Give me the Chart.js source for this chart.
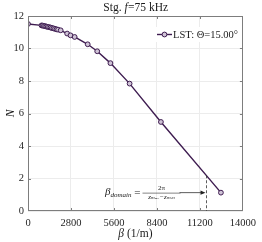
<!DOCTYPE html>
<html>
<head>
<meta charset="utf-8">
<script src="https://cdn.jsdelivr.net/npm/chart.js@4"></script>
<style>
html,body{margin:0;padding:0;background:#fff;}
</style>
</head>
<body>
<canvas id="c" width="262" height="242"></canvas>
<script>
// values
const beta = [0, 880, 960, 1040, 1120, 1200, 1290, 1380, 1470, 1560, 1660, 1760, 1860, 1960, 2130, 2550, 2770, 3040, 3890, 4510, 5370, 6620, 8660, 12570];
const nIndex = [11.51, 11.42, 11.41, 11.39, 11.37, 11.35, 11.33, 11.31, 11.29, 11.26, 11.24, 11.21, 11.18, 11.16, 11.12, 10.92, 10.81, 10.71, 10.26, 9.83, 9.10, 7.84, 5.48, 1.13];
const xTicks = [0, 2800, 5600, 8400, 11200, 14000];
const yTicks = [0, 2, 4, 6, 8, 10, 12];
const seriesLabel = 'LST: \u0398=15.00\u00b0';
const betaDomain = 11600;   // dashed marker
const arrowN = 1.13;        // height of the arrow
const dashTopN = 2.2;

const serif = '"Liberation Serif", "DejaVu Serif", serif';
const lineCol = '#3e1c50';
const axisCol = '#7d7d7d';
const gridCol = '#ececec';

Chart.defaults.font.family = serif;
Chart.defaults.color = '#262626';

// draws box, inward ticks, titles, legend and the beta_domain note
const deco = {
	id: 'deco',
	afterDraw(chart){
		const ctx = chart.ctx, a = chart.chartArea, sx = chart.scales.x, sy = chart.scales.y;
		let i, p;
		ctx.save();

		// axes box
		ctx.strokeStyle = axisCol;
		ctx.lineWidth = 1;
		ctx.strokeRect(Math.round(a.left)+0.5, Math.round(a.top)+0.5, Math.round(a.right-a.left)-1, Math.round(a.bottom-a.top)-1);

		// ticks pointing in
		ctx.beginPath();
		for(i = 1; i < xTicks.length-1; i++){
			p = Math.round(sx.getPixelForValue(xTicks[i]))+0.5;
			ctx.moveTo(p,a.bottom); ctx.lineTo(p,a.bottom-3);
			ctx.moveTo(p,a.top); ctx.lineTo(p,a.top+3);
		}
		for(i = 1; i < yTicks.length-1; i++){
			p = Math.round(sy.getPixelForValue(yTicks[i]))+0.5;
			ctx.moveTo(a.left,p); ctx.lineTo(a.left+3,p);
			ctx.moveTo(a.right,p); ctx.lineTo(a.right-3,p);
		}
		ctx.stroke();

		ctx.fillStyle = '#1a1a1a';
		ctx.textBaseline = 'middle';

		// title
		ctx.textAlign = 'left';
		let cx = (a.left+a.right)/2;
		let t1 = 'Stg. ', t2 = 'f', t3 = '=75 kHz';
		ctx.font = '11.5px ' + serif;
		let w1 = ctx.measureText(t1).width, w3 = ctx.measureText(t3).width;
		ctx.font = 'italic 11.5px ' + serif;
		let w2 = ctx.measureText(t2).width;
		let x0 = cx - (w1+w2+w3)/2;
		ctx.font = '11.5px ' + serif;
		ctx.fillText(t1, x0, 7.5);
		ctx.font = 'italic 11.5px ' + serif;
		ctx.fillText(t2, x0+w1, 7.5);
		ctx.font = '11.5px ' + serif;
		ctx.fillText(t3, x0+w1+w2+0.5, 7.5);

		// x axis title
		ctx.font = 'italic 11.5px ' + serif;
		let wb = ctx.measureText('\u03b2').width;
		ctx.font = '11.5px ' + serif;
		let wu = ctx.measureText(' (1/m)').width;
		x0 = cx - (wb+wu)/2;
		ctx.font = 'italic 11.5px ' + serif;
		ctx.fillText('\u03b2', x0, 233.5);
		ctx.font = '11.5px ' + serif;
		ctx.fillText(' (1/m)', x0+wb, 233.5);

		// y axis title
		ctx.save();
		ctx.translate(11, (a.top+a.bottom)/2);
		ctx.rotate(-Math.PI/2);
		ctx.textAlign = 'center';
		ctx.font = 'italic 11.5px ' + serif;
		ctx.fillText('N', 0, 0);
		ctx.restore();

		// legend
		ctx.fillStyle = '#ffffff';
		ctx.fillRect(152, a.top+11, a.right-153, 15);
		let ly = a.top + 18.5;
		ctx.strokeStyle = lineCol;
		ctx.lineWidth = 1.4;
		ctx.beginPath(); ctx.moveTo(157, ly); ctx.lineTo(172, ly); ctx.stroke();
		ctx.fillStyle = '#cfc3d6';
		ctx.lineWidth = 1;
		ctx.beginPath(); ctx.arc(164.5, ly, 2.4, 0, 2*Math.PI); ctx.fill(); ctx.stroke();
		ctx.fillStyle = '#1a1a1a';
		ctx.textAlign = 'left';
		ctx.font = '10.5px ' + serif;
		ctx.fillText(seriesLabel, 173, ly+0.5);

		// beta_domain marker
		let xd = Math.round(sx.getPixelForValue(betaDomain))+0.5;
		let ya = sy.getPixelForValue(arrowN);
		ctx.strokeStyle = '#333333';
		ctx.lineWidth = 0.8;
		ctx.setLineDash([3,2]);
		ctx.beginPath(); ctx.moveTo(xd, sy.getPixelForValue(dashTopN)); ctx.lineTo(xd, a.bottom); ctx.stroke();
		ctx.setLineDash([]);
		ctx.beginPath(); ctx.moveTo(xd-27, ya); ctx.lineTo(xd-4, ya); ctx.stroke();
		ctx.fillStyle = '#222222';
		ctx.beginPath(); ctx.moveTo(xd-1, ya); ctx.lineTo(xd-6, ya-2.2); ctx.lineTo(xd-6, ya+2.2); ctx.closePath(); ctx.fill();

		// label: beta_domain = 2pi/(z_max - z_min)
		ctx.fillStyle = '#1a1a1a';
		let fx = xd - 64;  // fraction left
		ctx.font = '7px ' + serif;
		ctx.textAlign = 'center';
		ctx.fillText('2\u03c0', fx+19, ya-4.5);
		ctx.font = 'italic 7px ' + serif;
		ctx.fillText('z\u2098\u2090\u2093\u2212z\u2098\u1d62\u2099', fx+19, ya+5);
		ctx.lineWidth = 0.6;
		ctx.beginPath(); ctx.moveTo(fx, ya+0.5); ctx.lineTo(fx+38, ya+0.5); ctx.stroke();
		ctx.textAlign = 'right';
		ctx.font = '11px ' + serif;
		ctx.fillText('=', fx-2, ya);
		ctx.font = 'italic 7px ' + serif;
		let ws = ctx.measureText('domain').width;
		ctx.fillText('domain', fx-11, ya+2.5);
		ctx.font = 'italic 11px ' + serif;
		ctx.fillText('\u03b2', fx-11-ws, ya-0.5);

		ctx.restore();
	}
};

new Chart(document.getElementById('c'), {
	type: 'scatter',
	data: {
		datasets: [{
			label: seriesLabel,
			data: beta.map((b,i) => ({x: b, y: nIndex[i]})),
			showLine: true,
			borderColor: lineCol,
			borderWidth: 1.4,
			pointRadius: 2.4,
			pointBorderWidth: 1,
			pointBorderColor: lineCol,
			pointBackgroundColor: '#cfc3d6'
		}]
	},
	options: {
		responsive: false,
		animation: false,
		devicePixelRatio: 1,
		layout: {padding: {top: 16, right: 14, left: 0, bottom: 0}},
		plugins: {legend: {display: false}, tooltip: {enabled: false}, title: {display: false}},
		scales: {
			x: {
				type: 'linear', min: 0, max: 14000,
				afterBuildTicks: s => { s.ticks = xTicks.map(v => ({value: v})); },
				afterFit: s => { s.height = 31; },
				grid: {color: gridCol, drawTicks: false},
				border: {display: false},
				ticks: {padding: 6, font: {size: 10.5}, maxRotation: 0, autoSkip: false, callback: v => String(v)}
			},
			y: {
				type: 'linear', min: 0, max: 12,
				afterBuildTicks: s => { s.ticks = yTicks.map(v => ({value: v})); },
				afterFit: s => { s.width = 28; },
				grid: {color: gridCol, drawTicks: false},
				border: {display: false},
				ticks: {padding: 4, font: {size: 10.5}, callback: v => String(v)}
			}
		}
	},
	plugins: [deco]
});
</script>
</body>
</html>
